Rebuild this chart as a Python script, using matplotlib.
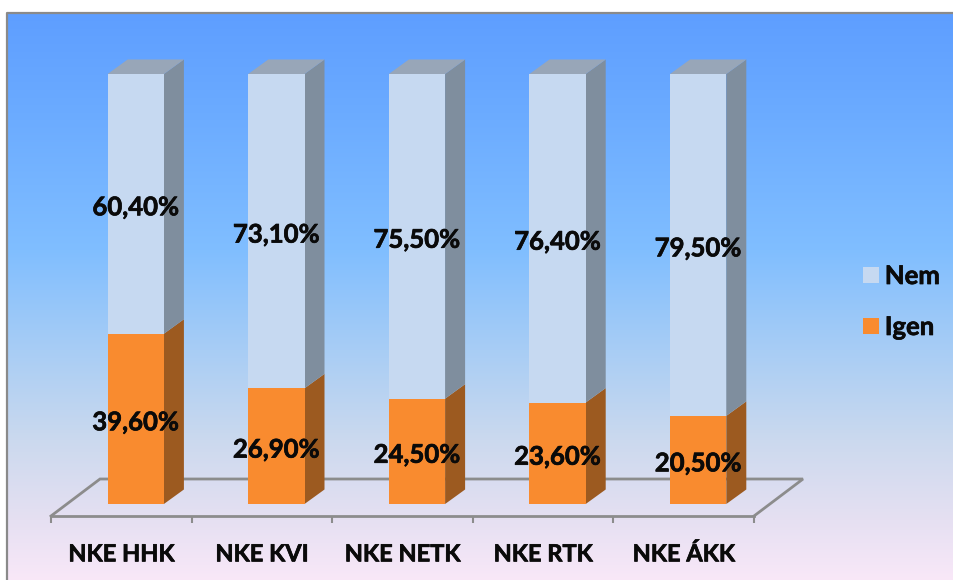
import numpy as np
import matplotlib
matplotlib.use('Agg')
import matplotlib.pyplot as plt
import matplotlib.patheffects as pe
from matplotlib.patches import Polygon, Patch

categories = ['NKE HHK', 'NKE KVI', 'NKE NETK', 'NKE RTK', 'NKE ÁKK']
igen = [39.6, 26.9, 24.5, 23.6, 20.5]
nem = [60.4, 73.1, 75.5, 76.4, 79.5]
igen_labels = ['39,60%', '26,90%', '24,50%', '23,60%', '20,50%']
nem_labels = ['60,40%', '73,10%', '75,50%', '76,40%', '79,50%']

plt.rcParams['font.family'] = ['Lato', 'DejaVu Sans']
plt.rcParams['font.weight'] = 'bold'

W, H = 954, 580
fig = plt.figure(figsize=(W / 100, H / 100), dpi=100, facecolor='white')

# background panel with vertical gradient
bg = fig.add_axes([0, 0, 1, 1], zorder=0)
stops_y = [13, 120, 250, 350, 440, 520, 580]
stops_c = np.array([[94, 158, 255], [108, 172, 255], [128, 190, 255], [168, 205, 245],
                    [203, 217, 238], [230, 224, 242], [249, 232, 248]]) / 255
rows = np.arange(13, H)
grad = np.stack([np.interp(rows, stops_y, stops_c[:, i]) for i in range(3)], axis=1)[:, None, :]
bg.imshow(grad, extent=[7, W, H, 13], aspect='auto', interpolation='bilinear')
bg.plot([7, 7, W], [H, 13, 13], color='#8a8a8a', lw=1.6)
bg.set_xlim(0, W)
bg.set_ylim(H, 0)
bg.axis('off')

# plot area is the front plane of the bars
ax = fig.add_axes([51 / W, (H - 504) / H, 703 / W, 430 / H], zorder=1)
ax.patch.set_alpha(0)
ax.set_xlim(-0.5, 4.5)
ax.set_ylim(0, 100)

x = np.arange(len(categories))
width = 0.4
# bars sit a bit behind the front edge of the floor, so they look shifted right
bar_x = x + 0.103
# depth of the 3d effect in data units
dx = 20 / 140.6
dy = 14.5 / 4.3

# floor
floor_c = '#8c8c8c'
fy0 = -12 / 4.3
fy1 = 25 / 4.3
fdx = 49 / 140.6
ax.plot([-0.5, -0.5 + fdx, 4.5 + fdx, 4.5], [fy0, fy1, fy1, fy0], color=floor_c, lw=2,
        clip_on=False, zorder=1, solid_joinstyle='miter')

bars_igen = ax.bar(bar_x, igen, width, color='#F98B2F', zorder=3, label='Igen')
bars_nem = ax.bar(bar_x, nem, width, bottom=igen, color='#C6D9F1', zorder=3, label='Nem')

for b in bars_igen:
    r = b.get_x() + b.get_width()
    y0, y1 = b.get_y(), b.get_y() + b.get_height()
    ax.add_patch(Polygon([(r, y0), (r + dx, y0 + dy), (r + dx, y1 + dy), (r, y1)],
                         fc='#9C5A20', ec='none', zorder=2, clip_on=False))
for b in bars_nem:
    l = b.get_x()
    r = l + b.get_width()
    y0, y1 = b.get_y(), b.get_y() + b.get_height()
    ax.add_patch(Polygon([(r, y0), (r + dx, y0 + dy), (r + dx, y1 + dy), (r, y1)],
                         fc='#7F8E9E', ec='none', zorder=2, clip_on=False))
    ax.add_patch(Polygon([(l, y1), (l + dx, y1 + dy), (r + dx, y1 + dy), (r, y1)],
                         fc='#98A6B8', ec='none', zorder=2, clip_on=False))

# text needs a bit more weight than the installed bold gives
heavy = [pe.withStroke(linewidth=0.5, foreground='#0a0a0a')]

for i in x:
    ax.text(bar_x[i], igen[i] / 2 - 0.8, igen_labels[i], ha='center', va='center', fontsize=18.5,
            fontweight='bold', color='#0a0a0a', zorder=5, path_effects=heavy)
    ax.text(bar_x[i], igen[i] + nem[i] / 2 - 0.8, nem_labels[i], ha='center', va='center', fontsize=18.5,
            fontweight='bold', color='#0a0a0a', zorder=5, path_effects=heavy)

for s in ['top', 'right', 'left']:
    ax.spines[s].set_visible(False)
ax.spines['bottom'].set_position(('outward', 12 * 0.72))
ax.spines['bottom'].set_color(floor_c)
ax.spines['bottom'].set_linewidth(2)
ax.set_yticks([])
ax.set_xticks(x)
ax.set_xticklabels(categories, fontsize=17, fontweight='bold', color='#0a0a0a', path_effects=heavy)
ax.set_xticks(np.arange(-0.5, 5), minor=True)
ax.tick_params(axis='x', which='major', length=0, pad=19)
ax.tick_params(axis='x', which='minor', length=5, width=1.5, color=floor_c)

handles = [Patch(fc='#C6D9F1', label='Nem'), Patch(fc='#F98B2F', label='Igen')]
leg = fig.legend(handles=handles, loc='center left', bbox_to_anchor=(863 / W, (H - 301.5) / H),
                 frameon=False, fontsize=18.5, handlelength=0.63, handleheight=0.63,
                 labelspacing=1.05, handletextpad=0.22, borderpad=0, borderaxespad=0)
for t in leg.get_texts():
    t.set_color('#0a0a0a')
    t.set_path_effects(heavy)

fig.savefig('out.png', dpi=100)
